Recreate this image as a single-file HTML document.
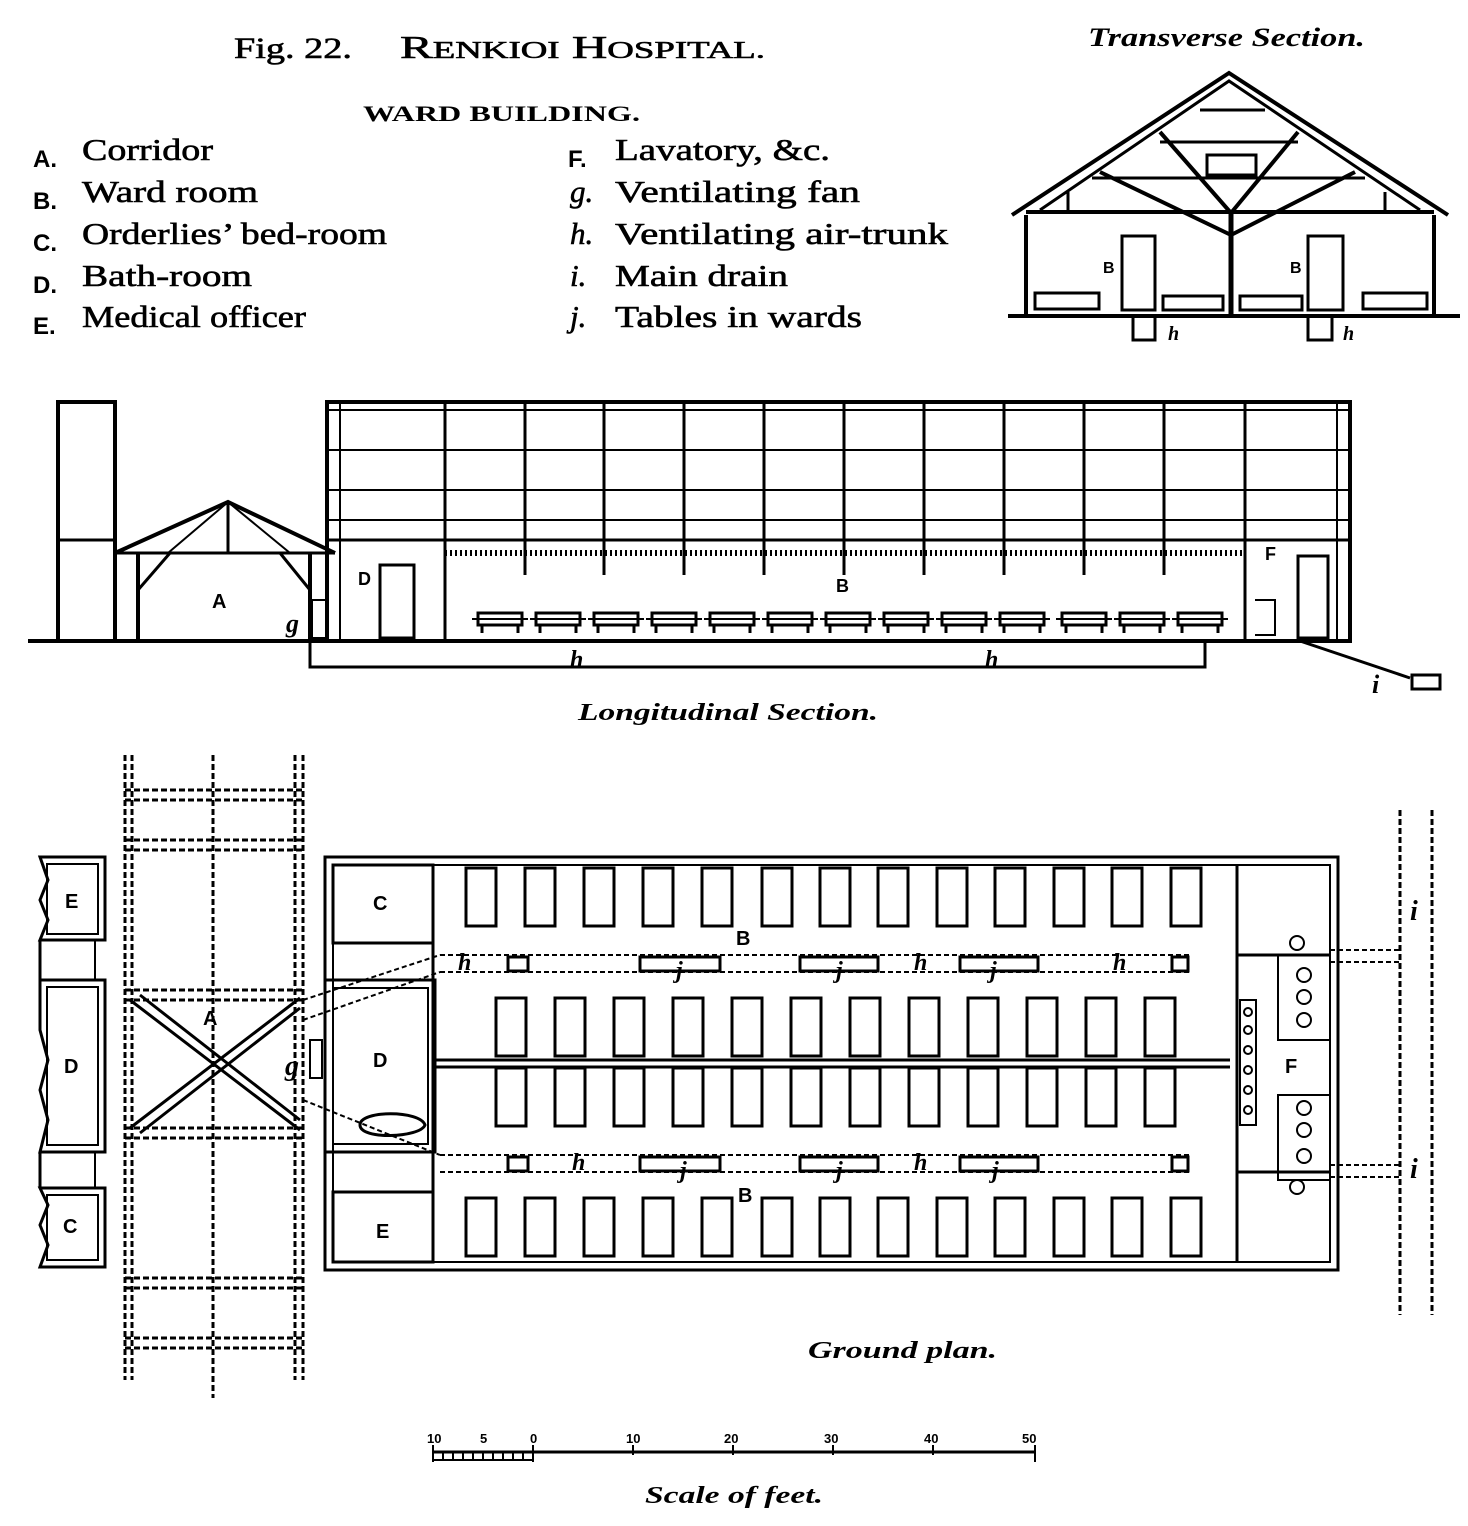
<!DOCTYPE html>
<html><head><meta charset="utf-8"><style>
html,body{margin:0;padding:0;background:#fff}
svg{display:block}
text{font-family:"Liberation Serif",serif;fill:#000;stroke:#000;stroke-width:0.6}
.s{font-family:"Liberation Sans",sans-serif;font-weight:bold;stroke-width:0}
.i{font-style:italic;font-weight:bold;stroke-width:0}
</style></head><body>
<svg width="1468" height="1526" viewBox="0 0 1468 1526" xmlns="http://www.w3.org/2000/svg">
<defs>
<rect id="bed" width="30" height="58" fill="none" stroke="#000" stroke-width="3"/>
<g id="lbed"><rect x="0" y="0" width="44" height="12" fill="none" stroke="#000" stroke-width="3"/><line x1="4" y1="12" x2="4" y2="20" stroke="#000" stroke-width="3"/><line x1="40" y1="12" x2="40" y2="20" stroke="#000" stroke-width="3"/><line x1="-6" y1="6" x2="50" y2="6" stroke="#000" stroke-width="2"/></g>
</defs>
<!-- Titles -->
<text x="234" y="58" font-size="30" textLength="118" lengthAdjust="spacingAndGlyphs">Fig. 22.</text>
<text x="400" y="58" font-size="32" textLength="365" lengthAdjust="spacingAndGlyphs">R<tspan font-size="24">ENKIOI</tspan> H<tspan font-size="24">OSPITAL.</tspan></text>
<text x="1088" y="46" font-size="26" class="i" textLength="277" lengthAdjust="spacingAndGlyphs">Transverse Section.</text>
<text x="363" y="121" font-size="22" font-weight="bold" textLength="277" lengthAdjust="spacingAndGlyphs" style="stroke-width:0">WARD BUILDING.</text>
<g font-size="31">
<text x="33" y="167" class="s" font-size="24">A.</text><text x="82" y="160" textLength="131" lengthAdjust="spacingAndGlyphs">Corridor</text>
<text x="33" y="209" class="s" font-size="24">B.</text><text x="82" y="202" textLength="176" lengthAdjust="spacingAndGlyphs">Ward room</text>
<text x="33" y="251" class="s" font-size="24">C.</text><text x="82" y="244" textLength="305" lengthAdjust="spacingAndGlyphs">Orderlies’ bed-room</text>
<text x="33" y="293" class="s" font-size="24">D.</text><text x="82" y="286" textLength="170" lengthAdjust="spacingAndGlyphs">Bath-room</text>
<text x="33" y="334" class="s" font-size="24">E.</text><text x="82" y="327" textLength="224" lengthAdjust="spacingAndGlyphs">Medical officer</text>
<text x="568" y="167" class="s" font-size="24">F.</text><text x="615" y="160" textLength="215" lengthAdjust="spacingAndGlyphs">Lavatory, &amp;c.</text>
<text x="570" y="202" font-style="italic">g.</text><text x="615" y="202" textLength="245" lengthAdjust="spacingAndGlyphs">Ventilating fan</text>
<text x="570" y="244" font-style="italic">h.</text><text x="615" y="244" textLength="333" lengthAdjust="spacingAndGlyphs">Ventilating air-trunk</text>
<text x="570" y="286" font-style="italic">i.</text><text x="615" y="286" textLength="173" lengthAdjust="spacingAndGlyphs">Main drain</text>
<text x="570" y="327" font-style="italic">j.</text><text x="615" y="327" textLength="247" lengthAdjust="spacingAndGlyphs">Tables in wards</text>
</g>
<!-- Transverse -->
<g stroke="#000" stroke-width="4" fill="none">
<polyline points="1012,215 1229,73 1448,215"/>
<polyline points="1040,210 1229,81 1420,210" stroke-width="3"/>
<line x1="1026" y1="212" x2="1434" y2="212"/>
<line x1="1026" y1="215" x2="1026" y2="315"/><line x1="1434" y1="215" x2="1434" y2="315"/>
<line x1="1008" y1="316" x2="1460" y2="316"/>
<line x1="1231" y1="213" x2="1231" y2="315" stroke-width="5"/>
<line x1="1231" y1="213" x2="1160" y2="132"/><line x1="1231" y1="213" x2="1298" y2="132"/>
<line x1="1231" y1="235" x2="1100" y2="172"/><line x1="1231" y1="235" x2="1355" y2="172"/>
<line x1="1200" y1="110" x2="1265" y2="110" stroke-width="3"/>
<line x1="1160" y1="142" x2="1298" y2="142" stroke-width="3"/>
<line x1="1092" y1="178" x2="1365" y2="178" stroke-width="3"/>
<line x1="1068" y1="192" x2="1068" y2="212" stroke-width="3"/><line x1="1385" y1="192" x2="1385" y2="212" stroke-width="3"/>
<rect x="1207" y="155" width="49" height="20" stroke-width="3"/>
<rect x="1122" y="236" width="33" height="74" stroke-width="3"/><rect x="1308" y="236" width="35" height="74" stroke-width="3"/>
<rect x="1035" y="293" width="64" height="16" stroke-width="3"/><rect x="1163" y="296" width="60" height="14" stroke-width="3"/>
<rect x="1240" y="296" width="62" height="14" stroke-width="3"/><rect x="1363" y="293" width="64" height="16" stroke-width="3"/>
<polyline points="1133,318 1133,340 1155,340 1155,318" stroke-width="3"/>
<polyline points="1308,318 1308,340 1332,340 1332,318" stroke-width="3"/>
</g>
<text x="1103" y="273" class="s" font-size="16">B</text><text x="1290" y="273" class="s" font-size="16">B</text>
<text x="1168" y="340" class="i" font-size="20">h</text><text x="1343" y="340" class="i" font-size="20">h</text>
<!-- Longitudinal -->
<g stroke="#000" stroke-width="4" fill="none">
<line x1="28" y1="641" x2="1350" y2="641"/>
<polyline points="58,641 58,402 115,402 115,641"/>
<line x1="58" y1="540" x2="115" y2="540" stroke-width="3"/>
<polyline points="115,553 228,502 335,553"/>
<line x1="115" y1="553" x2="335" y2="553" stroke-width="3"/>
<line x1="138" y1="553" x2="138" y2="641"/><line x1="310" y1="553" x2="310" y2="641"/>
<line x1="228" y1="502" x2="228" y2="553" stroke-width="3"/>
<line x1="228" y1="502" x2="168" y2="553" stroke-width="2"/><line x1="228" y1="502" x2="290" y2="553" stroke-width="2"/>
<line x1="138" y1="590" x2="170" y2="553" stroke-width="3"/><line x1="310" y1="590" x2="280" y2="553" stroke-width="3"/>
<rect x="327" y="402" width="1023" height="239"/>
<line x1="327" y1="410" x2="1350" y2="410" stroke-width="2"/>
<line x1="327" y1="450" x2="1350" y2="450" stroke-width="2"/>
<line x1="327" y1="490" x2="1350" y2="490" stroke-width="2"/>
<line x1="327" y1="520" x2="1350" y2="520" stroke-width="2"/>
<line x1="327" y1="540" x2="1350" y2="540" stroke-width="3"/>
<line x1="445" y1="553" x2="1245" y2="553" stroke-width="6" stroke-dasharray="2,3"/>
<line x1="445" y1="402" x2="445" y2="641" stroke-width="3"/>
<line x1="1245" y1="402" x2="1245" y2="641" stroke-width="3"/>
<line x1="340" y1="402" x2="340" y2="641" stroke-width="2"/><line x1="1337" y1="402" x2="1337" y2="641" stroke-width="2"/>
<g stroke-width="3">
<line x1="525" y1="402" x2="525" y2="575"/><line x1="604" y1="402" x2="604" y2="575"/><line x1="684" y1="402" x2="684" y2="575"/>
<line x1="764" y1="402" x2="764" y2="575"/><line x1="844" y1="402" x2="844" y2="575"/><line x1="924" y1="402" x2="924" y2="575"/>
<line x1="1004" y1="402" x2="1004" y2="575"/><line x1="1084" y1="402" x2="1084" y2="575"/><line x1="1164" y1="402" x2="1164" y2="575"/>
</g>
<rect x="380" y="565" width="34" height="73" stroke-width="3"/>
<rect x="312" y="600" width="16" height="38" stroke-width="2"/>
<rect x="1298" y="556" width="30" height="82" stroke-width="3"/>
<path d="M1255,600 L1275,600 L1275,635 L1255,635" stroke-width="2"/>
<rect x="310" y="641" width="895" height="26" stroke-width="3"/>
<line x1="1300" y1="641" x2="1410" y2="678" stroke-width="3"/>
<rect x="1412" y="675" width="28" height="14" stroke-width="3"/>
</g>
<g>
<use href="#lbed" x="478" y="613"/><use href="#lbed" x="536" y="613"/><use href="#lbed" x="594" y="613"/><use href="#lbed" x="652" y="613"/>
<use href="#lbed" x="710" y="613"/><use href="#lbed" x="768" y="613"/><use href="#lbed" x="826" y="613"/><use href="#lbed" x="884" y="613"/>
<use href="#lbed" x="942" y="613"/><use href="#lbed" x="1000" y="613"/><use href="#lbed" x="1062" y="613"/><use href="#lbed" x="1120" y="613"/><use href="#lbed" x="1178" y="613"/>
</g>
<text x="212" y="608" class="s" font-size="20">A</text>
<text x="358" y="585" class="s" font-size="18">D</text>
<text x="836" y="592" class="s" font-size="18">B</text>
<text x="1265" y="560" class="s" font-size="18">F</text>
<text x="286" y="632" class="i" font-size="26">g</text>
<text x="570" y="667" class="i" font-size="24">h</text><text x="985" y="667" class="i" font-size="24">h</text>
<text x="1372" y="693" class="i" font-size="26">i</text>
<text x="578" y="720" class="i" font-size="24" font-weight="normal" textLength="300" lengthAdjust="spacingAndGlyphs">Longitudinal Section.</text>
<!-- Ground plan corridor -->
<g stroke="#000" stroke-width="3" fill="none" stroke-dasharray="6,3">
<line x1="125" y1="755" x2="125" y2="1380"/><line x1="132" y1="755" x2="132" y2="1380"/>
<line x1="213" y1="755" x2="213" y2="1398"/>
<line x1="295" y1="755" x2="295" y2="1380"/><line x1="303" y1="755" x2="303" y2="1380"/>
<line x1="125" y1="790" x2="303" y2="790"/><line x1="125" y1="800" x2="303" y2="800"/>
<line x1="125" y1="840" x2="303" y2="840"/><line x1="125" y1="850" x2="303" y2="850"/>
<line x1="125" y1="990" x2="303" y2="990"/><line x1="125" y1="1000" x2="303" y2="1000"/>
<line x1="125" y1="1128" x2="303" y2="1128"/><line x1="125" y1="1138" x2="303" y2="1138"/>
<line x1="125" y1="1278" x2="303" y2="1278"/><line x1="125" y1="1288" x2="303" y2="1288"/>
<line x1="125" y1="1338" x2="303" y2="1338"/><line x1="125" y1="1348" x2="303" y2="1348"/>
<line x1="1400" y1="810" x2="1400" y2="1315"/><line x1="1432" y1="810" x2="1432" y2="1315"/>
</g>
<g stroke="#000" stroke-width="3" fill="none">
<line x1="130" y1="1000" x2="300" y2="1130"/><line x1="130" y1="1128" x2="300" y2="998"/>
<line x1="140" y1="995" x2="300" y2="1120"/><line x1="140" y1="1133" x2="300" y2="1008"/>
<path d="M40,857 H105 V940 H40 L48,920 L40,900 L48,880 Z"/>
<rect x="47" y="864" width="51" height="70" stroke-width="2"/>
<path d="M40,980 H105 V1152 H40 L48,1120 L40,1090 L48,1060 L40,1030 Z"/>
<rect x="47" y="987" width="51" height="158" stroke-width="2"/>
<path d="M40,1188 H105 V1267 H40 L48,1245 L40,1225 L48,1205 Z"/>
<rect x="47" y="1195" width="51" height="65" stroke-width="2"/>
<line x1="40" y1="940" x2="40" y2="980"/><line x1="95" y1="940" x2="95" y2="980" stroke-width="2"/>
<line x1="40" y1="1152" x2="40" y2="1188"/><line x1="95" y1="1152" x2="95" y2="1188" stroke-width="2"/>
<rect x="325" y="857" width="1013" height="413"/>
<rect x="333" y="865" width="997" height="397" stroke-width="2"/>
<rect x="333" y="865" width="100" height="78" stroke-width="3"/>
<rect x="325" y="980" width="110" height="172" stroke-width="3"/>
<rect x="333" y="988" width="95" height="156" stroke-width="2"/>
<rect x="333" y="1192" width="100" height="70" stroke-width="3"/>
<line x1="433" y1="865" x2="433" y2="1262"/>
<line x1="1237" y1="865" x2="1237" y2="1262" stroke-width="3"/>
<line x1="433" y1="1060" x2="1230" y2="1060"/><line x1="433" y1="1067" x2="1230" y2="1067"/>
<line x1="1237" y1="955" x2="1330" y2="955"/><line x1="1237" y1="1172" x2="1330" y2="1172"/>
<path d="M360,1125 C360,1110 420,1110 425,1125 C420,1138 360,1140 360,1125 Z"/>
<rect x="310" y="1040" width="12" height="38" stroke-width="2"/>
<rect x="1240" y="1000" width="16" height="125" stroke-width="2"/>
<rect x="1278" y="955" width="52" height="85" stroke-width="2"/>
<rect x="1278" y="1095" width="52" height="85" stroke-width="2"/>
</g>
<g stroke="#000" stroke-width="2" fill="none">
<circle cx="1297" cy="943" r="7"/><circle cx="1304" cy="975" r="7"/><circle cx="1304" cy="997" r="7"/><circle cx="1304" cy="1020" r="7"/>
<circle cx="1304" cy="1108" r="7"/><circle cx="1304" cy="1130" r="7"/><circle cx="1304" cy="1156" r="7"/><circle cx="1297" cy="1187" r="7"/>
<circle cx="1248" cy="1012" r="4"/><circle cx="1248" cy="1030" r="4"/><circle cx="1248" cy="1050" r="4"/><circle cx="1248" cy="1070" r="4"/><circle cx="1248" cy="1090" r="4"/><circle cx="1248" cy="1110" r="4"/>
</g>
<g stroke="#000" stroke-width="2" fill="none" stroke-dasharray="5,3">
<line x1="440" y1="955" x2="1190" y2="955"/><line x1="440" y1="972" x2="1190" y2="972"/>
<line x1="440" y1="1155" x2="1190" y2="1155"/><line x1="440" y1="1172" x2="1190" y2="1172"/>
<line x1="303" y1="1000" x2="440" y2="955"/><line x1="303" y1="1020" x2="440" y2="972"/>
<line x1="303" y1="1100" x2="440" y2="1155"/>
<line x1="1330" y1="950" x2="1400" y2="950"/><line x1="1330" y1="962" x2="1400" y2="962"/>
<line x1="1330" y1="1165" x2="1400" y2="1165"/><line x1="1330" y1="1177" x2="1400" y2="1177"/>
</g>
<g stroke="#000" stroke-width="3" fill="none">
<rect x="508" y="957" width="20" height="14"/><rect x="1172" y="957" width="16" height="14"/>
<rect x="640" y="957" width="80" height="14"/><rect x="800" y="957" width="78" height="14"/><rect x="960" y="957" width="78" height="14"/>
<rect x="508" y="1157" width="20" height="14"/><rect x="1172" y="1157" width="16" height="14"/>
<rect x="640" y="1157" width="80" height="14"/><rect x="800" y="1157" width="78" height="14"/><rect x="960" y="1157" width="78" height="14"/>
</g>
<g>
<use href="#bed" x="466" y="868"/><use href="#bed" x="525" y="868"/><use href="#bed" x="584" y="868"/><use href="#bed" x="643" y="868"/><use href="#bed" x="702" y="868"/><use href="#bed" x="762" y="868"/><use href="#bed" x="820" y="868"/><use href="#bed" x="878" y="868"/><use href="#bed" x="937" y="868"/><use href="#bed" x="995" y="868"/><use href="#bed" x="1054" y="868"/><use href="#bed" x="1112" y="868"/><use href="#bed" x="1171" y="868"/>
<use href="#bed" x="496" y="998"/><use href="#bed" x="555" y="998"/><use href="#bed" x="614" y="998"/><use href="#bed" x="673" y="998"/><use href="#bed" x="732" y="998"/><use href="#bed" x="791" y="998"/><use href="#bed" x="850" y="998"/><use href="#bed" x="909" y="998"/><use href="#bed" x="968" y="998"/><use href="#bed" x="1027" y="998"/><use href="#bed" x="1086" y="998"/><use href="#bed" x="1145" y="998"/>
<use href="#bed" x="496" y="1068"/><use href="#bed" x="555" y="1068"/><use href="#bed" x="614" y="1068"/><use href="#bed" x="673" y="1068"/><use href="#bed" x="732" y="1068"/><use href="#bed" x="791" y="1068"/><use href="#bed" x="850" y="1068"/><use href="#bed" x="909" y="1068"/><use href="#bed" x="968" y="1068"/><use href="#bed" x="1027" y="1068"/><use href="#bed" x="1086" y="1068"/><use href="#bed" x="1145" y="1068"/>
<use href="#bed" x="466" y="1198"/><use href="#bed" x="525" y="1198"/><use href="#bed" x="584" y="1198"/><use href="#bed" x="643" y="1198"/><use href="#bed" x="702" y="1198"/><use href="#bed" x="762" y="1198"/><use href="#bed" x="820" y="1198"/><use href="#bed" x="878" y="1198"/><use href="#bed" x="937" y="1198"/><use href="#bed" x="995" y="1198"/><use href="#bed" x="1054" y="1198"/><use href="#bed" x="1112" y="1198"/><use href="#bed" x="1171" y="1198"/>
</g>
<g font-size="20">
<text x="65" y="908" class="s">E</text><text x="64" y="1073" class="s">D</text><text x="63" y="1233" class="s">C</text>
<text x="203" y="1025" class="s">A</text><text x="373" y="910" class="s">C</text><text x="373" y="1067" class="s">D</text>
<text x="376" y="1238" class="s">E</text><text x="736" y="945" class="s">B</text><text x="738" y="1202" class="s">B</text>
<text x="1285" y="1073" class="s">F</text>
</g>
<g font-size="24">
<text x="458" y="970" class="i">h</text><text x="914" y="970" class="i">h</text><text x="1113" y="970" class="i">h</text>
<text x="676" y="978" class="i">j</text><text x="836" y="978" class="i">j</text><text x="990" y="978" class="i">j</text>
<text x="572" y="1170" class="i">h</text><text x="914" y="1170" class="i">h</text>
<text x="680" y="1178" class="i">j</text><text x="836" y="1178" class="i">j</text><text x="992" y="1178" class="i">j</text>
<text x="285" y="1075" class="i" font-size="28">g</text>
<text x="1410" y="920" class="i" font-size="28">i</text><text x="1410" y="1178" class="i" font-size="28">i</text>
</g>
<text x="808" y="1358" class="i" font-size="24" font-weight="normal" textLength="189" lengthAdjust="spacingAndGlyphs">Ground plan.</text>
<!-- scale -->
<g stroke="#000" stroke-width="2" fill="none">
<line x1="433" y1="1452" x2="1035" y2="1452" stroke-width="3"/>
<line x1="433" y1="1460" x2="533" y2="1460"/>
<line x1="433" y1="1445" x2="433" y2="1462"/><line x1="533" y1="1445" x2="533" y2="1462"/>
<line x1="633" y1="1445" x2="633" y2="1455"/><line x1="733" y1="1445" x2="733" y2="1455"/><line x1="833" y1="1445" x2="833" y2="1455"/><line x1="933" y1="1445" x2="933" y2="1455"/><line x1="1035" y1="1445" x2="1035" y2="1462"/>
<path d="M443,1452v8M453,1452v8M463,1452v8M473,1452v8M483,1452v8M493,1452v8M503,1452v8M513,1452v8M523,1452v8"/>
</g>
<g font-size="13">
<text x="427" y="1443" class="s">10</text><text x="480" y="1443" class="s">5</text><text x="530" y="1443" class="s">0</text>
<text x="626" y="1443" class="s">10</text><text x="724" y="1443" class="s">20</text><text x="824" y="1443" class="s">30</text><text x="924" y="1443" class="s">40</text><text x="1022" y="1443" class="s">50</text>
</g>
<text x="645" y="1503" class="i" font-size="24" font-weight="normal" textLength="178" lengthAdjust="spacingAndGlyphs">Scale of feet.</text>
</svg>
</body></html>
